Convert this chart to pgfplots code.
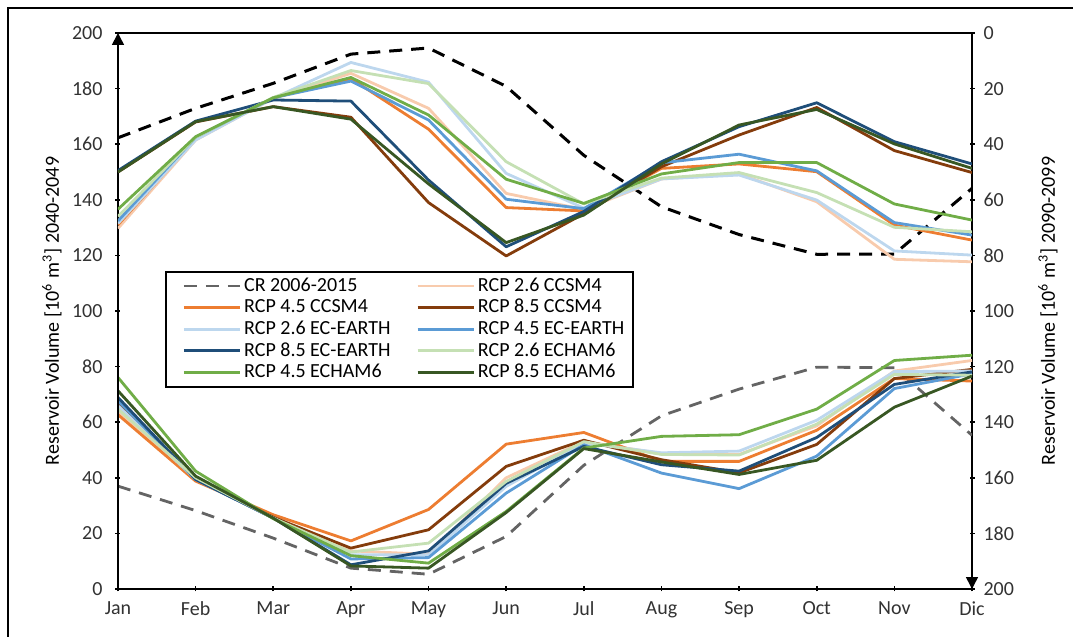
\documentclass[border=0pt]{standalone}
\usepackage{pgfplots}
\pgfplotsset{compat=1.18}
\usepackage{pgfplotstable}
\usepackage{fontspec}
\setmainfont{Carlito}
\usetikzlibrary{arrows.meta}

\definecolor{c26}{RGB}{248,203,173}
\definecolor{c45}{RGB}{237,125,49}
\definecolor{c85}{RGB}{132,60,12}
\definecolor{e26}{RGB}{189,215,238}
\definecolor{e45}{RGB}{91,155,213}
\definecolor{e85}{RGB}{31,78,121}
\definecolor{h26}{RGB}{197,224,180}
\definecolor{h45}{RGB}{112,173,71}
\definecolor{h85}{RGB}{56,87,35}
\definecolor{crgray}{RGB}{100,100,100}
\definecolor{ticktext}{RGB}{50,50,50}

% 2040-2049 (left axis)
\pgfplotstableread{
x CR c26 c45 c85 e26 e45 e85 h26 h45 h85
0 162.3 129.7 131.0 150.0 131.5 132.4 150.5 134.0 136.6 150.0
1 172.9 161.5 162.0 168.0 161.5 162.5 168.3 162.5 162.7 168.1
2 181.9 176.5 176.7 173.5 176.5 176.7 175.9 176.8 176.7 173.5
3 192.4 185.5 183.6 169.7 189.4 182.7 175.5 186.5 184.0 169.0
4 194.6 172.9 165.4 139.0 182.3 168.7 147.1 181.8 170.5 145.7
5 180.8 142.3 137.2 119.8 149.5 140.2 123.1 153.7 147.4 124.6
6 156.0 136.5 136.0 135.0 137.0 136.8 135.8 138.5 138.7 134.5
7 137.5 147.5 151.3 151.9 147.5 153.3 153.7 147.8 149.3 152.9
8 127.5 149.3 152.9 163.3 148.9 156.4 166.3 149.8 153.4 166.9
9 120.4 139.3 150.1 173.2 139.9 150.4 174.9 142.6 153.4 172.5
10 120.5 118.6 130.9 157.7 121.6 131.8 160.9 130.1 138.5 160.1
11 144.1 117.7 125.5 149.8 120.1 127.3 152.9 128.5 132.7 151.3
}\upperdata

% 2090-2099 (right axis, reversed)
\pgfplotstableread{
x CR c26 c45 c85 e26 e45 e85 h26 h45 h85
0 163.0 136.5 137.3 133.0 134.1 132.3 131.1 135.3 123.9 128.7
1 171.8 160.6 161.2 160.6 160.6 160.6 160.6 160.0 157.6 159.4
2 181.7 174.5 173.3 174.2 174.5 174.5 174.5 174.5 174.7 174.5
3 192.5 186.3 182.7 185.3 187.7 189.2 191.3 186.7 188.0 191.7
4 194.7 187.5 171.4 178.7 187.7 188.7 186.3 183.5 190.7 192.5
5 181.1 160.0 147.9 155.9 163.1 165.5 162.0 161.3 172.1 172.5
6 155.5 146.9 143.7 146.5 147.5 148.1 148.7 147.0 149.3 149.5
7 137.7 151.3 154.1 153.5 151.0 158.3 155.3 151.6 145.1 154.3
8 128.1 151.6 154.1 158.2 150.4 163.9 157.6 151.8 144.5 158.8
9 120.2 141.3 142.9 148.0 139.3 152.2 145.5 140.7 135.3 153.7
10 120.4 121.6 124.3 124.3 121.8 127.9 126.4 122.8 117.8 134.6
11 144.7 117.8 125.2 121.0 121.6 122.6 121.9 123.1 115.9 123.4
}\lowerdata

\pgfplotsset{
  common/.style={
    scale only axis, width=427pt, height=278pt,
    at={(0,0)}, anchor=south west,
    xmin=0, xmax=11, ymin=0, ymax=200,
    ytick={0,20,...,200},
    tick align=outside, major tick length=2.5pt,
    tick style={line width=0.8pt, black},
    /pgf/number format/assume math mode=true,
    tick label style={font=\fontsize{10}{12}\selectfont, text=ticktext},
    label style={font=\fontsize{10}{12}\selectfont, text=black},
  },
  ser/.style={line width=1.4pt, line join=round},
}

\begin{document}
\begin{tikzpicture}
% lower group on the reversed right axis
\begin{axis}[common,
  axis x line=none, axis y line=right,
  y dir=reverse,
  y axis line style={line width=0.8pt, -{Triangle[length=6pt,width=6pt]}},
  yticklabel style={xshift=1pt},
  ylabel={Reservoir Volume [10\textsuperscript{6} m\textsuperscript{3}] 2090-2099},
  every axis y label/.style={at={(axis description cs:1,0.5)}, xshift=38pt, rotate=90, anchor=center},
]
\addplot[ser, crgray, line width=1.4pt, dash pattern=on 6.5pt off 4.5pt] table[x=x,y=CR] {\lowerdata};
\addplot[ser, c26] table[x=x,y=c26] {\lowerdata};
\addplot[ser, c45] table[x=x,y=c45] {\lowerdata};
\addplot[ser, c85] table[x=x,y=c85] {\lowerdata};
\addplot[ser, e26] table[x=x,y=e26] {\lowerdata};
\addplot[ser, e45] table[x=x,y=e45] {\lowerdata};
\addplot[ser, e85] table[x=x,y=e85] {\lowerdata};
\addplot[ser, h26] table[x=x,y=h26] {\lowerdata};
\addplot[ser, h45] table[x=x,y=h45] {\lowerdata};
\addplot[ser, h85] table[x=x,y=h85] {\lowerdata};
\end{axis}

% upper group on the left axis
\begin{axis}[common,
  axis x line=bottom, axis y line=left,
  x axis line style={line width=0.8pt, -},
  y axis line style={line width=0.8pt, -{Triangle[length=6pt,width=6pt]}},
  xtick={0,...,11},
  xticklabels={Jan,Feb,Mar,Apr,May,Jun,Jul,Aug,Sep,Oct,Nov,Dic},
  xticklabel style={yshift=-1.5pt},
  yticklabel style={xshift=-3pt},
  ylabel={Reservoir Volume [10\textsuperscript{6} m\textsuperscript{3}] 2040-2049},
  every axis y label/.style={at={(axis description cs:0,0.5)}, xshift=-33pt, rotate=90, anchor=center},
  legend columns=2,
  legend cell align=left,
  legend image code/.code={\path[draw=none] (0pt,0pt) -- (34pt,0pt); \draw[#1] (6pt,0pt) -- (34pt,0pt);},
  legend style={at={(rel axis cs:0.055,0.572)}, anchor=north west,
    draw=black, line width=0.8pt, fill=white,
    font=\fontsize{10}{12}\selectfont,
    nodes={inner xsep=1.5pt},
    inner xsep=3pt, inner ysep=1pt, row sep=-1.5pt,
    /tikz/every even column/.append style={column sep=6pt}},
]
\addlegendimage{crgray, line width=1.4pt, dash pattern=on 6.5pt off 4.5pt}
\addlegendentry{CR 2006-2015}
\addplot[ser, black, line width=1.5pt, dash pattern=on 6.5pt off 4.5pt, forget plot] table[x=x,y=CR] {\upperdata};
\addplot[ser, c26] table[x=x,y=c26] {\upperdata}; \addlegendentry{RCP 2.6 CCSM4}
\addplot[ser, c45] table[x=x,y=c45] {\upperdata}; \addlegendentry{RCP 4.5 CCSM4}
\addplot[ser, c85] table[x=x,y=c85] {\upperdata}; \addlegendentry{RCP 8.5 CCSM4}
\addplot[ser, e26] table[x=x,y=e26] {\upperdata}; \addlegendentry{RCP 2.6 EC-EARTH}
\addplot[ser, e45] table[x=x,y=e45] {\upperdata}; \addlegendentry{RCP 4.5 EC-EARTH}
\addplot[ser, e85] table[x=x,y=e85] {\upperdata}; \addlegendentry{RCP 8.5 EC-EARTH}
\addplot[ser, h26] table[x=x,y=h26] {\upperdata}; \addlegendentry{RCP 2.6 ECHAM6}
\addplot[ser, h45] table[x=x,y=h45] {\upperdata}; \addlegendentry{RCP 4.5 ECHAM6}
\addplot[ser, h85] table[x=x,y=h85] {\upperdata}; \addlegendentry{RCP 8.5 ECHAM6}
\end{axis}

\draw[line width=0.8pt] (0pt,278pt) -- (427pt,278pt);
\draw[line width=1pt] (-55pt,-40pt) -- (-55pt,290.5pt) -- (500pt,290.5pt);
\pgfresetboundingbox
\useasboundingbox (-59pt,-24pt) rectangle (477.5pt,294.5pt);
\end{tikzpicture}
\end{document}
